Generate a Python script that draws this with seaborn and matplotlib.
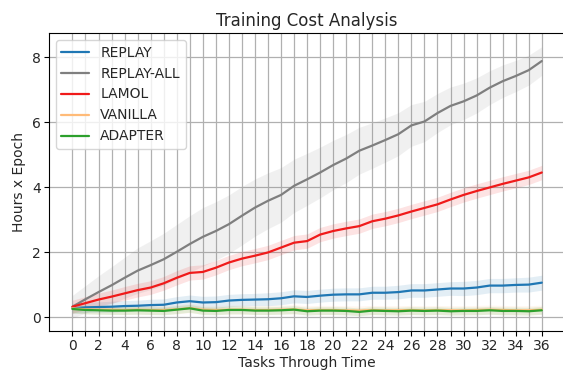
import numpy as np
import pandas as pd
import matplotlib
matplotlib.use("Agg")
import matplotlib.pyplot as plt
import seaborn as sns

tasks = list(range(37))

replay = [0.27, 0.30, 0.31, 0.32, 0.34, 0.35, 0.37, 0.38, 0.45, 0.49, 0.45, 0.46, 0.51,
          0.53, 0.54, 0.55, 0.58, 0.64, 0.62, 0.66, 0.69, 0.70, 0.70, 0.75, 0.75, 0.77,
          0.82, 0.82, 0.85, 0.88, 0.88, 0.91, 0.97, 0.97, 0.99, 1.00, 1.06]
replay_all = [0.32, 0.55, 0.77, 0.98, 1.21, 1.43, 1.60, 1.78, 2.01, 2.25, 2.47, 2.65, 2.86,
              3.12, 3.37, 3.58, 3.76, 4.04, 4.24, 4.45, 4.68, 4.88, 5.12, 5.28, 5.45, 5.63,
              5.90, 6.02, 6.28, 6.50, 6.64, 6.82, 7.06, 7.26, 7.42, 7.60, 7.88]
lamol = [0.32, 0.43, 0.54, 0.63, 0.73, 0.83, 0.91, 1.04, 1.21, 1.36, 1.39, 1.52, 1.68,
         1.80, 1.89, 1.99, 2.14, 2.29, 2.34, 2.54, 2.65, 2.73, 2.80, 2.95, 3.03, 3.13,
         3.25, 3.36, 3.47, 3.62, 3.76, 3.88, 3.99, 4.10, 4.20, 4.30, 4.45]
vanilla = [0.27, 0.24, 0.23, 0.23, 0.22, 0.23, 0.22, 0.22, 0.24, 0.28, 0.23, 0.22, 0.23,
           0.23, 0.22, 0.22, 0.23, 0.24, 0.21, 0.22, 0.22, 0.21, 0.20, 0.22, 0.21, 0.21,
           0.22, 0.21, 0.22, 0.21, 0.21, 0.22, 0.23, 0.22, 0.21, 0.21, 0.23]
adapter = [0.25, 0.22, 0.21, 0.20, 0.20, 0.21, 0.20, 0.19, 0.23, 0.27, 0.20, 0.19, 0.22,
           0.22, 0.20, 0.20, 0.21, 0.23, 0.18, 0.20, 0.20, 0.19, 0.16, 0.20, 0.19, 0.18,
           0.20, 0.19, 0.20, 0.18, 0.19, 0.19, 0.21, 0.19, 0.19, 0.18, 0.21]

# half-width of the shaded spread around each mean curve
replay_spread = [0.15, 0.16, 0.16, 0.17, 0.17, 0.17, 0.18, 0.18, 0.18, 0.19, 0.19, 0.19, 0.19,
                 0.19, 0.19, 0.2, 0.2, 0.2, 0.2, 0.2, 0.2, 0.2, 0.2, 0.2, 0.2, 0.21,
                 0.21, 0.21, 0.21, 0.21, 0.22, 0.22, 0.22, 0.22, 0.22, 0.23, 0.23]
replay_all_spread = [0.35, 0.42, 0.5, 0.57, 0.63, 0.7, 0.75, 0.8, 0.84, 0.87, 0.9, 0.9, 0.9,
                     0.9, 0.88, 0.86, 0.84, 0.82, 0.8, 0.78, 0.76, 0.74, 0.72, 0.7, 0.68, 0.66,
                     0.64, 0.62, 0.6, 0.58, 0.56, 0.54, 0.52, 0.5, 0.48, 0.46, 0.44]
lamol_spread = [0.2, 0.2, 0.2, 0.2, 0.21, 0.21, 0.21, 0.21, 0.22, 0.22, 0.22, 0.22, 0.22,
                0.22, 0.22, 0.22, 0.22, 0.22, 0.22, 0.22, 0.22, 0.22, 0.22, 0.22, 0.22, 0.22,
                0.22, 0.22, 0.22, 0.22, 0.22, 0.22, 0.22, 0.22, 0.22, 0.22, 0.22]
vanilla_spread = [0.14] * 37
adapter_spread = [0.12] * 37

methods = ["REPLAY", "REPLAY-ALL", "LAMOL", "VANILLA", "ADAPTER"]
colors = ["#1f77b4", "#7f7f7f", "#f01a1a", "#ffbb78", "#2ca02c"]
band_alpha = [0.12, 0.11, 0.12, 0.12, 0.12]
means = [replay, replay_all, lamol, vanilla, adapter]
spreads = [replay_spread, replay_all_spread, lamol_spread, vanilla_spread, adapter_spread]

df = pd.concat(
    [pd.DataFrame({"task": tasks, "hours": m, "method": name}) for name, m in zip(methods, means)],
    ignore_index=True,
)

sns.set_style("ticks")
plt.rcParams["font.family"] = ["DejaVu Sans"]

fig = plt.figure(figsize=(5.63, 3.72), dpi=100)
ax = fig.add_axes([0.087, 0.110, 0.917, 0.801])

for col, a, m, s in zip(colors, band_alpha, means, spreads):
    m = np.asarray(m)
    s = np.asarray(s)
    ax.fill_between(tasks, m - s, m + s, color=col, alpha=a, linewidth=0)

sns.lineplot(data=df, x="task", y="hours", hue="method", hue_order=methods,
             palette=dict(zip(methods, colors)), linewidth=1.6, ax=ax)

ax.set_xticks(tasks)
ax.set_xticklabels([str(t) if t % 2 == 0 else "" for t in tasks])
ax.set_yticks([0, 2, 4, 6, 8])
ax.set_xlim(-1.8, 37.8)
ax.set_ylim(-0.43, 8.74)
ax.grid(True, color="#b0b0b0", linewidth=0.9)
ax.set_axisbelow(True)
for sp in ax.spines.values():
    sp.set_color("black")
    sp.set_linewidth(0.8)

ax.set_title("Training Cost Analysis", fontsize=12, pad=5)
ax.set_xlabel("Tasks Through Time", fontsize=10, labelpad=2)
ax.set_ylabel("Hours x Epoch", fontsize=10, labelpad=4)
ax.tick_params(labelsize=10, length=3.5, width=0.8, color="black", pad=2.5)

leg = ax.legend(loc="upper left", fontsize=10, frameon=True)
leg.get_frame().set_edgecolor("#cccccc")

fig.savefig("out.png", dpi=100)
